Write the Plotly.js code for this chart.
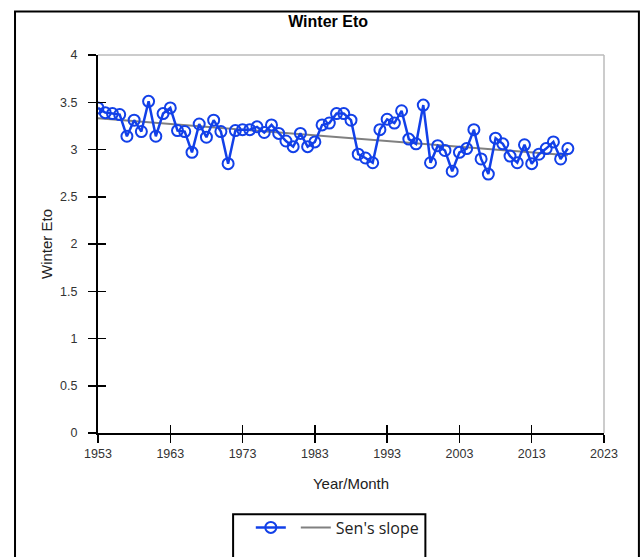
<!DOCTYPE html>
<html>
<head>
<meta charset="utf-8">
<script src="https://cdn.plot.ly/plotly-3.0.1.min.js"></script>
<style>
html,body{margin:0;padding:0;background:#fff;}
#chart{width:642px;height:557px;}
</style>
</head>
<body>
<div id="chart"></div>
<script>
const years = [1953,1954,1955,1956,1957,1958,1959,1960,1961,1962,1963,1964,1965,1966,1967,1968,1969,1970,1971,1972,1973,1974,1975,1976,1977,1978,1979,1980,1981,1982,1983,1984,1985,1986,1987,1988,1989,1990,1991,1992,1993,1994,1995,1996,1997,1998,1999,2000,2001,2002,2003,2004,2005,2006,2007,2008,2009,2010,2011,2012,2013,2014,2015,2016,2017,2018];
const winterEto = [3.44,3.39,3.38,3.37,3.14,3.31,3.19,3.51,3.14,3.38,3.44,3.20,3.19,2.97,3.27,3.13,3.31,3.19,2.85,3.20,3.21,3.21,3.24,3.18,3.26,3.17,3.09,3.03,3.17,3.03,3.08,3.26,3.28,3.38,3.38,3.31,2.95,2.91,2.86,3.21,3.32,3.28,3.41,3.11,3.06,3.47,2.86,3.04,2.99,2.77,2.97,3.01,3.21,2.90,2.74,3.12,3.06,2.93,2.86,3.05,2.85,2.95,3.01,3.08,2.90,3.01];
const senYears = [1953, 2018];
const senValues = [3.33, 2.94];
const xTickVals = [1953,1963,1973,1983,1993,2003,2013,2023];
const yTickVals = [0,0.5,1,1.5,2,2.5,3,3.5,4];
const yTickText = ['0','0.5','1','1.5','2','2.5','3','3.5','4'];

const blue = 'rgb(18,64,232)';
const tickFont = {family:'Liberation Sans Narrow, Liberation Sans, Arial, sans-serif', size:12.5, color:'#333'};

const traces = [
  {x: years, y: winterEto, xaxis:'x2', yaxis:'y2', type:'scatter', mode:'lines+markers', name:'',
   line:{color:blue, width:2.5},
   marker:{symbol:'circle-open', size:11, color:blue, line:{width:2, color:blue}}},
  {x: senYears, y: senValues, type:'scatter', mode:'lines', name:"Sen's slope",
   line:{color:'#808080', width:2}}
];

const axCommon = {
  showgrid:false, zeroline:false, showline:true, linecolor:'#000', linewidth:2,
  ticks:'outside', ticklen:8, tickwidth:1.5, tickcolor:'#000', tickfont:tickFont
};

const layout = {
  width:642, height:557,
  margin:{l:98, r:38, t:55, b:124},
  paper_bgcolor:'#fff', plot_bgcolor:'#fff',
  title:{text:'<b>Winter Eto</b>', x:0.511, xanchor:'center', xref:'container', y:0.962, yanchor:'middle', yref:'container',
         font:{family:'Liberation Sans, Arial, sans-serif', size:16, color:'#000'}},
  xaxis: Object.assign({}, axCommon, {range:[1953,2023], tickvals:xTickVals, ticktext:xTickVals.map(String),
         title:{text:'Year/Month', standoff:18, font:{family:'Liberation Sans, Arial, sans-serif', size:15, color:'#222'}}}),
  yaxis: Object.assign({}, axCommon, {range:[0,4], tickvals:yTickVals, ticktext:yTickText, ticklabelstandoff:8,
         title:{text:'Winter Eto', standoff:4, font:{family:'Liberation Sans, Arial, sans-serif', size:15, color:'#222'}}}),
  xaxis2:{overlaying:'x', range:[1953,2023], tickvals:xTickVals, ticks:'inside', ticklen:8, tickwidth:1.5, tickcolor:'#000',
          showticklabels:false, showgrid:false, zeroline:false, showline:false},
  yaxis2:{overlaying:'y', range:[0,4], tickvals:yTickVals, ticks:'inside', ticklen:8, tickwidth:1.5, tickcolor:'#000',
          showticklabels:false, showgrid:false, zeroline:false, showline:false},
  showlegend:true,
  legend:{orientation:'h', x:0.302, xanchor:'left', y:-0.205, yanchor:'top', bgcolor:'rgba(0,0,0,0)', borderwidth:0,
          font:{family:'Open Sans, Noto Sans, sans-serif', size:16, color:'#222'}},
  shapes:[
    {type:'line', xref:'paper', yref:'paper', x0:0, x1:1, y0:1, y1:1, line:{color:'#bbb', width:1.5}},
    {type:'line', xref:'paper', yref:'paper', x0:1, x1:1, y0:0, y1:1, line:{color:'#bbb', width:1.5}},
    {type:'rect', xref:'paper', yref:'paper', x0:-0.164, x1:1.069, y0:-0.4, y1:1.115, line:{color:'#000', width:2}},
    {type:'rect', xref:'paper', yref:'paper', x0:0.267, x1:0.647, y0:-0.4, y1:-0.215, line:{color:'#000', width:2}}
  ]
};

Plotly.newPlot('chart', traces, layout, {displayModeBar:false, staticPlot:true});
</script>
</body>
</html>
